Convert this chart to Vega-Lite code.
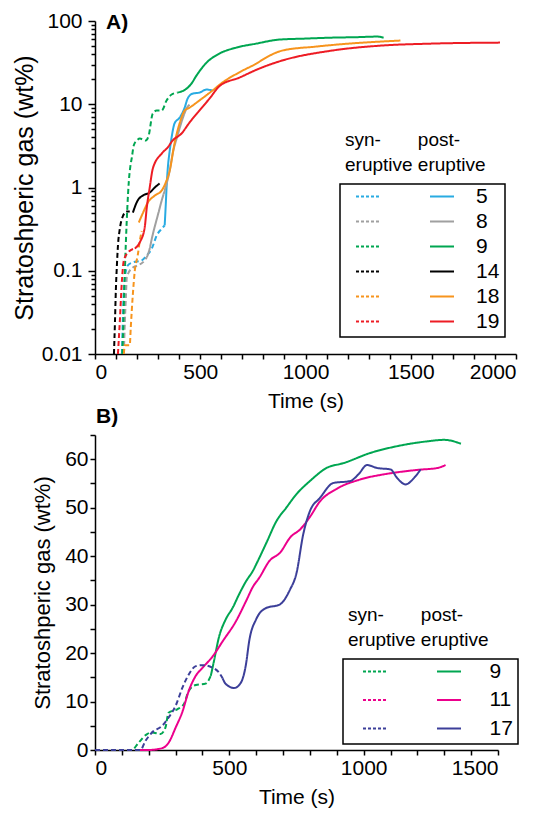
{
  "$schema": "https://vega.github.io/schema/vega-lite/v6.json",
  "background": "white",
  "padding": {"left": 12, "top": 10, "right": 5, "bottom": 5},
  "config": {
    "font": "Liberation Sans",
    "view": {"stroke": null},
    "axis": {"grid": false, "domainColor": "#000", "domainWidth": 1.5, "tickColor": "#000", "tickWidth": 1.5, "tickSize": 5, "labelFontSize": 21, "labelColor": "#000", "labelFont": "Liberation Sans", "titleFont": "Liberation Sans", "titleFontSize": 21, "titleFontWeight": "normal", "titleColor": "#000", "labelPadding": 2, "labelOverlap": false, "labelBound": false},
    "legend": {"titleFont": "Liberation Sans", "labelFont": "Liberation Sans", "titleColor": "#000", "labelColor": "#000", "titleFontWeight": "normal", "titleFontSize": 19, "titleLineHeight": 25, "titleBaseline": "alphabetic", "titlePadding": -47, "labelFontSize": 21, "symbolType": "M-49,0h3M-44,0h3M-39,0h3M-34,0h3M-29,0h3M25,0h24", "symbolSize": 4, "symbolStrokeWidth": 2, "padding": 5, "strokeColor": "#000", "orient": "none", "labelExpr": "datum.label + '\u00a0'"}
  },
  "datasets": {
    "a": [
      {"s":"5","p":"syn","t":128,"v":0.01},{"s":"5","p":"syn","t":132,"v":0.025},{"s":"5","p":"syn","t":137,"v":0.058},{"s":"5","p":"syn","t":142,"v":0.083},{"s":"5","p":"syn","t":156,"v":0.116},{"s":"5","p":"syn","t":180,"v":0.126},{"s":"5","p":"syn","t":222,"v":0.133},{"s":"5","p":"syn","t":246,"v":0.153},{"s":"5","p":"syn","t":270,"v":0.185},{"s":"5","p":"syn","t":293,"v":0.265},{"s":"5","p":"syn","t":317,"v":0.32},{"s":"5","p":"syn","t":331,"v":0.35},
      {"s":"5","p":"post","t":331,"v":0.35},{"s":"5","p":"post","t":336,"v":0.61},{"s":"5","p":"post","t":340,"v":1},{"s":"5","p":"post","t":345,"v":1.6},{"s":"5","p":"post","t":355,"v":2.78},{"s":"5","p":"post","t":364,"v":4},{"s":"5","p":"post","t":378,"v":5.9},{"s":"5","p":"post","t":402,"v":6.9},{"s":"5","p":"post","t":426,"v":9.1},{"s":"5","p":"post","t":440,"v":11.7},{"s":"5","p":"post","t":463,"v":13.4},{"s":"5","p":"post","t":496,"v":13.8},{"s":"5","p":"post","t":530,"v":15},{"s":"5","p":"post","t":558,"v":14.6},
      {"s":"8","p":"syn","t":137,"v":0.01},{"s":"8","p":"syn","t":142,"v":0.025},{"s":"8","p":"syn","t":147,"v":0.05},{"s":"8","p":"syn","t":151,"v":0.083},{"s":"8","p":"syn","t":175,"v":0.107},{"s":"8","p":"syn","t":203,"v":0.116},{"s":"8","p":"syn","t":227,"v":0.126},{"s":"8","p":"syn","t":246,"v":0.145},
      {"s":"8","p":"post","t":246,"v":0.145},{"s":"8","p":"post","t":260,"v":0.185},{"s":"8","p":"post","t":270,"v":0.244},{"s":"8","p":"post","t":284,"v":0.34},{"s":"8","p":"post","t":298,"v":0.46},{"s":"8","p":"post","t":317,"v":0.7},{"s":"8","p":"post","t":331,"v":0.92},{"s":"8","p":"post","t":355,"v":1.6},{"s":"8","p":"post","t":369,"v":2.56},{"s":"8","p":"post","t":392,"v":4.2},{"s":"8","p":"post","t":416,"v":6.7},{"s":"8","p":"post","t":435,"v":8.9},{"s":"8","p":"post","t":449,"v":9.9},
      {"s":"9","p":"syn","t":130,"v":0.01},{"s":"9","p":"syn","t":135,"v":0.025},{"s":"9","p":"syn","t":139,"v":0.058},{"s":"9","p":"syn","t":143,"v":0.12},{"s":"9","p":"syn","t":147,"v":0.23},{"s":"9","p":"syn","t":154,"v":0.6},{"s":"9","p":"syn","t":161,"v":1.21},{"s":"9","p":"syn","t":168,"v":1.8},{"s":"9","p":"syn","t":175,"v":2.29},{"s":"9","p":"syn","t":184,"v":3.2},{"s":"9","p":"syn","t":199,"v":3.67},{"s":"9","p":"syn","t":213,"v":3.87},{"s":"9","p":"syn","t":241,"v":3.67},{"s":"9","p":"syn","t":255,"v":4.2},{"s":"9","p":"syn","t":274,"v":7.7},{"s":"9","p":"syn","t":293,"v":8.4},{"s":"9","p":"syn","t":317,"v":8.4},{"s":"9","p":"syn","t":340,"v":11.1},{"s":"9","p":"syn","t":364,"v":13.1},{"s":"9","p":"syn","t":392,"v":13.8},
      {"s":"9","p":"post","t":392,"v":13.8},{"s":"9","p":"post","t":435,"v":15.4},{"s":"9","p":"post","t":458,"v":17.7},{"s":"9","p":"post","t":482,"v":22.1},{"s":"9","p":"post","t":530,"v":31.6},{"s":"9","p":"post","t":591,"v":40.6},{"s":"9","p":"post","t":671,"v":47.9},{"s":"9","p":"post","t":766,"v":53.5},{"s":"9","p":"post","t":875,"v":59.8},{"s":"9","p":"post","t":1000,"v":61.5},{"s":"9","p":"post","t":1125,"v":63.1},{"s":"9","p":"post","t":1250,"v":64},{"s":"9","p":"post","t":1340,"v":65},{"s":"9","p":"post","t":1371,"v":63},
      {"s":"14","p":"syn","t":90,"v":0.01},{"s":"14","p":"syn","t":95,"v":0.025},{"s":"14","p":"syn","t":99,"v":0.058},{"s":"14","p":"syn","t":104,"v":0.116},{"s":"14","p":"syn","t":109,"v":0.2},{"s":"14","p":"syn","t":118,"v":0.32},{"s":"14","p":"syn","t":132,"v":0.45},{"s":"14","p":"syn","t":151,"v":0.515},{"s":"14","p":"syn","t":165,"v":0.515},
      {"s":"14","p":"post","t":180,"v":0.5},{"s":"14","p":"post","t":203,"v":0.7},{"s":"14","p":"post","t":227,"v":0.8},{"s":"14","p":"post","t":260,"v":0.87},{"s":"14","p":"post","t":284,"v":1.0},{"s":"14","p":"post","t":307,"v":1.12},
      {"s":"18","p":"syn","t":137,"v":0.01},{"s":"18","p":"syn","t":142,"v":0.0127},{"s":"18","p":"syn","t":165,"v":0.0127},{"s":"18","p":"syn","t":170,"v":0.021},{"s":"18","p":"syn","t":180,"v":0.053},{"s":"18","p":"syn","t":189,"v":0.1},{"s":"18","p":"syn","t":203,"v":0.153},{"s":"18","p":"syn","t":213,"v":0.23},{"s":"18","p":"syn","t":222,"v":0.3},
      {"s":"18","p":"post","t":208,"v":0.38},{"s":"18","p":"post","t":227,"v":0.49},{"s":"18","p":"post","t":251,"v":0.66},{"s":"18","p":"post","t":284,"v":0.8},{"s":"18","p":"post","t":317,"v":0.92},{"s":"18","p":"post","t":336,"v":1.15},{"s":"18","p":"post","t":355,"v":1.6},{"s":"18","p":"post","t":378,"v":3.4},{"s":"18","p":"post","t":402,"v":5.9},{"s":"18","p":"post","t":426,"v":8.4},{"s":"18","p":"post","t":449,"v":9.1},{"s":"18","p":"post","t":496,"v":11.1},{"s":"18","p":"post","t":558,"v":14.6},{"s":"18","p":"post","t":605,"v":18.2},{"s":"18","p":"post","t":686,"v":24.2},{"s":"18","p":"post","t":766,"v":30.8},{"s":"18","p":"post","t":813,"v":36.4},{"s":"18","p":"post","t":889,"v":44.1},{"s":"18","p":"post","t":1050,"v":49.3},{"s":"18","p":"post","t":1206,"v":53.5},{"s":"18","p":"post","t":1451,"v":58.2},
      {"s":"19","p":"syn","t":109,"v":0.01},{"s":"19","p":"syn","t":118,"v":0.025},{"s":"19","p":"syn","t":128,"v":0.077},{"s":"19","p":"syn","t":137,"v":0.133},{"s":"19","p":"syn","t":161,"v":0.17},{"s":"19","p":"syn","t":189,"v":0.185},
      {"s":"19","p":"post","t":189,"v":0.185},{"s":"19","p":"post","t":213,"v":0.22},{"s":"19","p":"post","t":236,"v":0.33},{"s":"19","p":"post","t":246,"v":0.575},{"s":"19","p":"post","t":260,"v":1},{"s":"19","p":"post","t":275,"v":1.7},{"s":"19","p":"post","t":317,"v":2.56},{"s":"19","p":"post","t":345,"v":3.02},{"s":"19","p":"post","t":369,"v":3.67},{"s":"19","p":"post","t":411,"v":4.45},{"s":"19","p":"post","t":449,"v":6.03},{"s":"19","p":"post","t":496,"v":8.4},{"s":"19","p":"post","t":544,"v":11.7},{"s":"19","p":"post","t":591,"v":16.5},{"s":"19","p":"post","t":686,"v":20.9},{"s":"19","p":"post","t":780,"v":26.8},{"s":"19","p":"post","t":889,"v":33.5},{"s":"19","p":"post","t":1125,"v":44.1},{"s":"19","p":"post","t":1362,"v":50.7},{"s":"19","p":"post","t":1598,"v":53.5},{"s":"19","p":"post","t":1924,"v":55}
    ],
    "b": [
      {"s":"9","p":"syn","t":0,"v":0},{"s":"9","p":"syn","t":137,"v":0},{"s":"9","p":"syn","t":162,"v":1.5},{"s":"9","p":"syn","t":194,"v":3.3},{"s":"9","p":"syn","t":212,"v":3.6},{"s":"9","p":"syn","t":244,"v":3.3},{"s":"9","p":"syn","t":262,"v":4.6},{"s":"9","p":"syn","t":274,"v":7.7},{"s":"9","p":"syn","t":306,"v":8.4},{"s":"9","p":"syn","t":331,"v":9.5},{"s":"9","p":"syn","t":349,"v":12.2},{"s":"9","p":"syn","t":375,"v":13.4},{"s":"9","p":"syn","t":412,"v":13.7},{"s":"9","p":"syn","t":431,"v":15.3},
      {"s":"9","p":"post","t":431,"v":15.3},{"s":"9","p":"post","t":443,"v":18.4},{"s":"9","p":"post","t":461,"v":23.2},{"s":"9","p":"post","t":487,"v":27},{"s":"9","p":"post","t":512,"v":29.3},{"s":"9","p":"post","t":537,"v":32.2},{"s":"9","p":"post","t":562,"v":34.8},{"s":"9","p":"post","t":587,"v":36.9},{"s":"9","p":"post","t":606,"v":39},{"s":"9","p":"post","t":640,"v":43},{"s":"9","p":"post","t":675,"v":47.2},{"s":"9","p":"post","t":712,"v":50},{"s":"9","p":"post","t":750,"v":52.8},{"s":"9","p":"post","t":800,"v":55.5},{"s":"9","p":"post","t":862,"v":58.2},{"s":"9","p":"post","t":925,"v":59.2},{"s":"9","p":"post","t":1025,"v":61.3},{"s":"9","p":"post","t":1125,"v":62.7},{"s":"9","p":"post","t":1238,"v":63.7},{"s":"9","p":"post","t":1300,"v":64},{"s":"9","p":"post","t":1362,"v":63.2},
      {"s":"11","p":"syn","t":0,"v":0},{"s":"11","p":"syn","t":150,"v":0},
      {"s":"11","p":"post","t":150,"v":0},{"s":"11","p":"post","t":199,"v":0},{"s":"11","p":"post","t":251,"v":0.4},{"s":"11","p":"post","t":274,"v":1.5},{"s":"11","p":"post","t":300,"v":4.6},{"s":"11","p":"post","t":326,"v":8},{"s":"11","p":"post","t":349,"v":12.2},{"s":"11","p":"post","t":375,"v":15.3},{"s":"11","p":"post","t":401,"v":17},{"s":"11","p":"post","t":439,"v":19.4},{"s":"11","p":"post","t":476,"v":22.5},{"s":"11","p":"post","t":525,"v":26.6},{"s":"11","p":"post","t":562,"v":30.7},{"s":"11","p":"post","t":589,"v":33.8},{"s":"11","p":"post","t":611,"v":35.5},{"s":"11","p":"post","t":649,"v":39},{"s":"11","p":"post","t":690,"v":40.8},{"s":"11","p":"post","t":727,"v":43.9},{"s":"11","p":"post","t":765,"v":45.6},{"s":"11","p":"post","t":800,"v":48.1},{"s":"11","p":"post","t":836,"v":51.2},{"s":"11","p":"post","t":900,"v":53.9},{"s":"11","p":"post","t":986,"v":55.8},{"s":"11","p":"post","t":1088,"v":57},{"s":"11","p":"post","t":1200,"v":57.8},{"s":"11","p":"post","t":1275,"v":58.2},{"s":"11","p":"post","t":1305,"v":58.8},
      {"s":"17","p":"syn","t":0,"v":0},{"s":"17","p":"syn","t":169,"v":0},{"s":"17","p":"syn","t":187,"v":1.8},{"s":"17","p":"syn","t":212,"v":3.6},{"s":"17","p":"syn","t":250,"v":5},{"s":"17","p":"syn","t":274,"v":6.7},{"s":"17","p":"syn","t":300,"v":9.1},{"s":"17","p":"syn","t":325,"v":12.8},{"s":"17","p":"syn","t":349,"v":15.6},{"s":"17","p":"syn","t":375,"v":17.3},{"s":"17","p":"syn","t":400,"v":17.5},{"s":"17","p":"syn","t":437,"v":17},{"s":"17","p":"syn","t":461,"v":16},{"s":"17","p":"syn","t":475,"v":14.8},
      {"s":"17","p":"post","t":475,"v":14.8},{"s":"17","p":"post","t":487,"v":13.6},{"s":"17","p":"post","t":518,"v":12.8},{"s":"17","p":"post","t":543,"v":13.9},{"s":"17","p":"post","t":562,"v":17.7},{"s":"17","p":"post","t":574,"v":22.5},{"s":"17","p":"post","t":600,"v":27},{"s":"17","p":"post","t":637,"v":29.3},{"s":"17","p":"post","t":687,"v":30},{"s":"17","p":"post","t":725,"v":33},{"s":"17","p":"post","t":750,"v":36.5},{"s":"17","p":"post","t":775,"v":44.5},{"s":"17","p":"post","t":800,"v":49.3},{"s":"17","p":"post","t":837,"v":52},{"s":"17","p":"post","t":887,"v":55.1},{"s":"17","p":"post","t":950,"v":55.5},{"s":"17","p":"post","t":981,"v":56.9},{"s":"17","p":"post","t":1012,"v":58.8},{"s":"17","p":"post","t":1050,"v":58.2},{"s":"17","p":"post","t":1100,"v":57.9},{"s":"17","p":"post","t":1125,"v":56.1},{"s":"17","p":"post","t":1156,"v":54.8},{"s":"17","p":"post","t":1187,"v":56.1},{"s":"17","p":"post","t":1212,"v":57.9}
    ]
  },
  "spacing": 81,
  "bounds": "flush",
  "resolve": {"scale": {"color": "independent", "strokeDash": "independent"}, "legend": {"color": "independent"}},
  "vconcat": [
    {
      "width": 421,
      "height": 333,
      "title": {"text": "A)", "anchor": "start", "frame": "group", "fontSize": 21, "fontWeight": "bold", "font": "Liberation Sans", "color": "#000", "baseline": "alphabetic", "offset": -40, "dx": 11},
      "data": {"name": "a"},
      "mark": {"type": "line", "strokeWidth": 2, "interpolate": "monotone"},
      "encoding": {
        "x": {"field": "t", "type": "quantitative", "scale": {"domain": [0, 2000], "nice": false},
          "axis": {"title": "Time (s)", "titlePadding": 8, "format": "d", "values": [0,100,200,300,400,500,600,700,800,900,1000,1100,1200,1300,1400,1500,1600,1700,1800,1900,2000], "labelExpr": "datum.value % 500 === 0 ? datum.label : ''"}},
        "y": {"field": "v", "type": "quantitative", "scale": {"type": "log", "domain": [0.01, 100], "nice": false},
          "axis": {"title": "Stratoshperic gas (wt%)", "titleFontSize": 25, "titlePadding": 4, "labelPadding": 6, "format": "~g",
            "values": [0.01,0.02,0.03,0.04,0.05,0.06,0.07,0.08,0.09,0.1,0.2,0.3,0.4,0.5,0.6,0.7,0.8,0.9,1,2,3,4,5,6,7,8,9,10,20,30,40,50,60,70,80,90,100],
            "labelExpr": "abs(log(datum.value)/LN10 - round(log(datum.value)/LN10)) < 0.001 ? datum.label : ''",
            "tickSize": {"condition": {"test": "abs(log(datum.value)/LN10 - round(log(datum.value)/LN10)) < 0.001", "value": 7}, "value": 4}}},
        "color": {"field": "s", "type": "nominal",
          "scale": {"domain": ["5","8","9","14","18","19"], "range": ["#29ABE2","#A0A0A0","#00A651","#000000","#F7941D","#ED1C24"]},
          "legend": {"title": ["\u00a0\u00a0\u00a0syn-\u00a0\u00a0\u00a0\u00a0\u00a0\u00a0\u00a0post-", "eruptive\u00a0eruptive"], "legendX": 245, "legendY": 163, "symbolOffset": 49.5, "labelOffset": 60.5, "rowPadding": 3,
            "encode": {"title": {"update": {"dy": {"value": -43}}}, "legend": {"update": {"strokeWidth": {"value": 1.5}}}}}},
        "strokeDash": {"field": "p", "type": "nominal", "scale": {"domain": ["syn","post"], "range": [[5,3],[1,0]]}, "legend": null}
      }
    },
    {
      "width": 403,
      "height": 315,
      "title": {"text": "B)", "anchor": "start", "frame": "group", "fontSize": 21, "fontWeight": "bold", "font": "Liberation Sans", "color": "#000", "baseline": "alphabetic", "offset": -20, "dx": 1},
      "data": {"name": "b"},
      "mark": {"type": "line", "strokeWidth": 2, "interpolate": "monotone"},
      "encoding": {
        "x": {"field": "t", "type": "quantitative", "scale": {"domain": [0, 1500], "nice": false},
          "axis": {"title": "Time (s)", "titlePadding": 8, "format": "d", "values": [0,100,200,300,400,500,600,700,800,900,1000,1100,1200,1300,1400,1500], "labelExpr": "datum.value % 500 === 0 ? datum.label : ''"}},
        "y": {"field": "v", "type": "quantitative", "scale": {"domain": [0, 65], "nice": false},
          "axis": {"title": "Stratoshperic gas (wt%)", "titleFontSize": 22, "titlePadding": 10, "format": "d",
            "values": [0,5,10,15,20,25,30,35,40,45,50,55,60,65],
            "labelExpr": "datum.value % 10 === 0 ? datum.label : ''"}},
        "color": {"field": "s", "type": "nominal",
          "scale": {"domain": ["9","11","17"], "range": ["#00A651","#EC008C","#3C3F99"]},
          "legend": {"title": ["\u00a0\u00a0\u00a0syn-\u00a0\u00a0\u00a0\u00a0\u00a0\u00a0\u00a0post-", "eruptive\u00a0eruptive"], "legendX": 248, "legendY": 224, "symbolOffset": 53.5, "labelOffset": 67, "rowPadding": 6.5,
            "encode": {"title": {"update": {"dy": {"value": -43}}}, "legend": {"update": {"strokeWidth": {"value": 1.5}}}}}},
        "strokeDash": {"field": "p", "type": "nominal", "scale": {"domain": ["syn","post"], "range": [[5,3],[1,0]]}, "legend": null}
      }
    }
  ]
}
